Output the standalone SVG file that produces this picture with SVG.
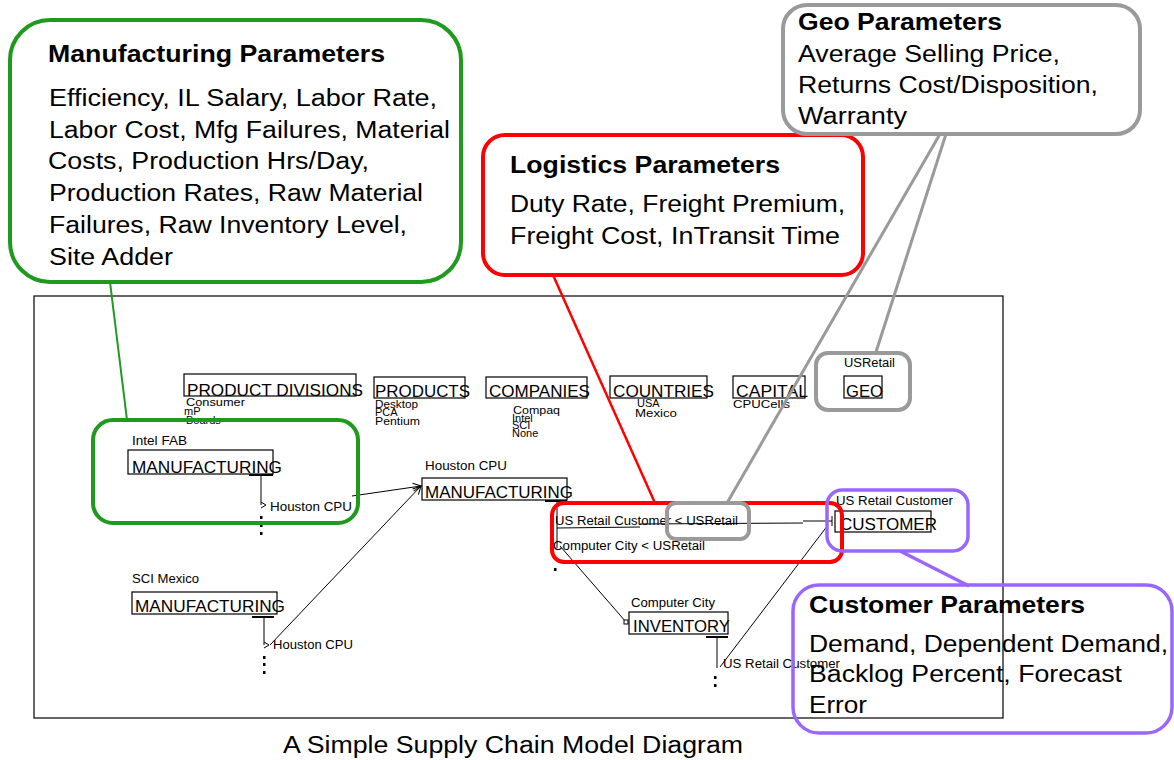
<svg xmlns="http://www.w3.org/2000/svg" width="1174" height="760" viewBox="0 0 1174 760">
<style>
.frame{fill:none;stroke:#000;stroke-width:1.2}
.nb{fill:none;stroke:#000;stroke-width:1.2}
.big{font-family:"Liberation Sans",Arial,sans-serif;font-size:17px;fill:#000}
.sm{font-family:"Liberation Sans",Arial,sans-serif;font-size:12px;fill:#000}
.tn{font-family:"Liberation Sans",Arial,sans-serif;font-size:11px;fill:#000}
.ttl{font-family:"Liberation Sans",Arial,sans-serif;font-size:23px;font-weight:bold;fill:#000}
.bd{font-family:"Liberation Sans",Arial,sans-serif;font-size:23px;fill:#000}
.cap{font-family:"Liberation Sans",Arial,sans-serif;font-size:23px;fill:#000}
.ln{stroke:#000;stroke-width:1;fill:none}
.tk{stroke:#000;stroke-width:2;fill:none}
.g{stroke:#1f9a1f;fill:none}
.r{stroke:#ff0000;fill:none}
.gy{stroke:#9a9a9a;fill:none}
.p{stroke:#9966ff;fill:none}
</style>
<defs>
<marker id="arr" markerUnits="userSpaceOnUse" markerWidth="10" markerHeight="10" refX="9" refY="5" orient="auto">
<path d="M1,1 L9,5 L1,9" fill="none" stroke="#000" stroke-width="1"/>
</marker>
</defs>
<rect width="1174" height="760" fill="#fff"/>

<rect class="frame" x="34" y="296" width="969" height="422"/>

<g id="node-product-divisions">
<rect class="nb" x="184" y="374" width="172" height="22"/>
<text class="big" x="187" y="396" textLength="176" lengthAdjust="spacingAndGlyphs">PRODUCT DIVISIONS</text>
<text class="tn" x="186" y="406" textLength="59" lengthAdjust="spacingAndGlyphs">Consumer</text>
<text class="tn" x="184" y="415">mP</text>
<text class="tn" x="186" y="424">Boards</text>
</g>
<g id="node-products">
<rect class="nb" x="374" y="377" width="91" height="21"/>
<text class="big" x="375" y="397" textLength="95" lengthAdjust="spacingAndGlyphs">PRODUCTS</text>
<text class="tn" x="375" y="408" textLength="43" lengthAdjust="spacingAndGlyphs">Desktop</text>
<text class="tn" x="375" y="416">PCA</text>
<text class="tn" x="375" y="425" textLength="45" lengthAdjust="spacingAndGlyphs">Pentium</text>
</g>
<g id="node-companies">
<rect class="nb" x="486" y="377" width="101" height="21"/>
<text class="big" x="489" y="397" textLength="101" lengthAdjust="spacingAndGlyphs">COMPANIES</text>
<text class="tn" x="513" y="414" textLength="47" lengthAdjust="spacingAndGlyphs">Compaq</text>
<text class="tn" x="512" y="422">Intel</text>
<text class="tn" x="512" y="429">SCI</text>
<text class="tn" x="512" y="437">None</text>
</g>
<g id="node-countries">
<rect class="nb" x="610" y="376" width="97" height="22"/>
<text class="big" x="613" y="397" textLength="101" lengthAdjust="spacingAndGlyphs">COUNTRIES</text>
<text class="tn" x="637" y="407">USA</text>
<text class="tn" x="635" y="417" textLength="42" lengthAdjust="spacingAndGlyphs">Mexico</text>
</g>
<g id="node-capital">
<rect class="nb" x="733" y="376" width="72" height="22"/>
<text class="big" x="736" y="397" textLength="72" lengthAdjust="spacingAndGlyphs">CAPITAL</text>
<text class="tn" x="733" y="408" textLength="57" lengthAdjust="spacingAndGlyphs">CPUCells</text>
</g>
<g id="node-geo">
<text class="sm" x="844" y="367" textLength="51" lengthAdjust="spacingAndGlyphs">USRetail</text>
<rect class="nb" x="844" y="376" width="38" height="22"/>
<text class="big" x="846" y="397" textLength="37" lengthAdjust="spacingAndGlyphs">GEO</text>
</g>

<g id="node-intel-mfg">
<text class="sm" x="132" y="445" textLength="55" lengthAdjust="spacingAndGlyphs">Intel FAB</text>
<rect class="nb" x="128" y="450" width="145" height="24"/>
<text class="big" x="132" y="473" textLength="150" lengthAdjust="spacingAndGlyphs">MANUFACTURING</text>
<line class="tk" x1="249" y1="475" x2="273" y2="475"/>
<line class="ln" x1="261" y1="475" x2="261" y2="505"/>
<path class="ln" d="M261,502 L266,505 L261,508"/>
<text class="sm" x="270" y="511" textLength="82" lengthAdjust="spacingAndGlyphs">Houston CPU</text>
<rect x="260" y="516" width="2.5" height="3" fill="#000"/>
<rect x="260" y="524" width="2.5" height="3" fill="#000"/>
<rect x="260" y="532" width="2.5" height="3" fill="#000"/>
</g>

<g id="node-houston-mfg">
<text class="sm" x="425" y="470" textLength="82" lengthAdjust="spacingAndGlyphs">Houston CPU</text>
<rect class="nb" x="422" y="478" width="145" height="22"/>
<text class="big" x="425" y="498" textLength="148" lengthAdjust="spacingAndGlyphs">MANUFACTURING</text>
<line class="tk" x1="545" y1="501" x2="567" y2="501"/>
<line class="ln" x1="557" y1="501" x2="557" y2="548"/>
<text class="sm" x="555" y="525" textLength="183" lengthAdjust="spacingAndGlyphs">US Retail Customer &lt; USRetail</text>
<text class="sm" x="553" y="550" textLength="152" lengthAdjust="spacingAndGlyphs">Computer City &lt; USRetail</text>
<rect x="554" y="568" width="2.5" height="3" fill="#000"/>
</g>

<g id="node-sci-mfg">
<text class="sm" x="132" y="583" textLength="67" lengthAdjust="spacingAndGlyphs">SCI Mexico</text>
<rect class="nb" x="132" y="592" width="145" height="22"/>
<text class="big" x="135" y="612" textLength="150" lengthAdjust="spacingAndGlyphs">MANUFACTURING</text>
<line class="tk" x1="252" y1="617" x2="274" y2="617"/>
<line class="ln" x1="264" y1="617" x2="264" y2="645"/>
<path class="ln" d="M264,642 L269,645 L264,648"/>
<text class="sm" x="273" y="649" textLength="80" lengthAdjust="spacingAndGlyphs">Houston CPU</text>
<rect x="263" y="656" width="2.5" height="3" fill="#000"/>
<rect x="263" y="663" width="2.5" height="3" fill="#000"/>
<rect x="263" y="671" width="2.5" height="3" fill="#000"/>
</g>

<g id="node-inventory">
<text class="sm" x="631" y="607" textLength="84" lengthAdjust="spacingAndGlyphs">Computer City</text>
<rect class="nb" x="629" y="612" width="99" height="22"/>
<text class="big" x="633" y="632" textLength="97" lengthAdjust="spacingAndGlyphs">INVENTORY</text>
<line class="tk" x1="706" y1="637" x2="728" y2="637"/>
<line class="ln" x1="717" y1="637" x2="717" y2="668"/>
<text class="sm" x="723" y="668" textLength="117" lengthAdjust="spacingAndGlyphs">US Retail Customer</text>
<rect x="714" y="676" width="2.5" height="3" fill="#000"/>
<rect x="714" y="684" width="2.5" height="3" fill="#000"/>
</g>

<g id="node-customer">
<text class="sm" x="836" y="505" textLength="117" lengthAdjust="spacingAndGlyphs">US Retail Customer</text>
<rect class="nb" x="835" y="511" width="96" height="21"/>
<text class="big" x="840" y="530" textLength="97" lengthAdjust="spacingAndGlyphs">CUSTOMER</text>
</g>

<g id="connectors">
<line class="ln" x1="352" y1="496" x2="421" y2="486" marker-end="url(#arr)"/>
<line class="ln" x1="270" y1="645" x2="421" y2="486" marker-end="url(#arr)"/>
<line class="ln" x1="557" y1="528" x2="640" y2="527"/>
<line class="ln" x1="640" y1="524" x2="803" y2="523"/>
<line class="ln" x1="803" y1="521" x2="832" y2="521"/>
<line class="ln" x1="832" y1="516" x2="832" y2="526"/>
<line class="ln" x1="560" y1="546" x2="626" y2="622"/>
<rect x="624" y="620" width="4" height="4" fill="#fff" stroke="#000" stroke-width="1"/>
<line class="ln" x1="720" y1="667" x2="828" y2="525"/>
<line class="g" stroke-width="2" x1="110" y1="282" x2="127" y2="420"/>
<line class="r" stroke-width="2.5" x1="553" y1="275" x2="655" y2="503"/>
<line class="gy" stroke-width="3" x1="940" y1="134" x2="727" y2="503"/>
<line class="gy" stroke-width="3" x1="946" y1="134" x2="876" y2="352"/>
<line class="p" stroke-width="3.5" x1="900" y1="551" x2="969" y2="586"/>
</g>

<g id="mfg-params">
<rect class="g" stroke-width="4" x="10" y="20" width="451" height="262" rx="40"/>
<text class="ttl" x="48" y="62" textLength="337" lengthAdjust="spacingAndGlyphs">Manufacturing Parameters</text>
<text class="bd" x="49" y="106" textLength="388" lengthAdjust="spacingAndGlyphs">Efficiency, IL Salary, Labor Rate,</text>
<text class="bd" x="49" y="138" textLength="401" lengthAdjust="spacingAndGlyphs">Labor Cost, Mfg Failures, Material</text>
<text class="bd" x="48" y="169" textLength="321" lengthAdjust="spacingAndGlyphs">Costs, Production Hrs/Day,</text>
<text class="bd" x="49" y="201" textLength="374" lengthAdjust="spacingAndGlyphs">Production Rates, Raw Material</text>
<text class="bd" x="49" y="233" textLength="358" lengthAdjust="spacingAndGlyphs">Failures, Raw Inventory Level,</text>
<text class="bd" x="49" y="265" textLength="124" lengthAdjust="spacingAndGlyphs">Site Adder</text>
</g>
<g id="mfg-highlight">
<rect class="g" stroke-width="4" x="93" y="420" width="265" height="103" rx="20"/>
</g>

<g id="logistics-params">
<rect class="r" stroke-width="4" x="483" y="135" width="380" height="140" rx="22" fill="#fff"/>
<text class="ttl" x="510" y="173" textLength="270" lengthAdjust="spacingAndGlyphs">Logistics Parameters</text>
<text class="bd" x="510" y="212" textLength="335" lengthAdjust="spacingAndGlyphs">Duty Rate, Freight Premium,</text>
<text class="bd" x="510" y="244" textLength="330" lengthAdjust="spacingAndGlyphs">Freight Cost, InTransit Time</text>
</g>
<g id="logistics-highlight">
<rect class="r" stroke-width="4" x="552" y="503" width="290" height="59" rx="12"/>
</g>

<g id="geo-params">
<rect class="gy" stroke-width="4" x="783" y="5" width="357" height="129" rx="24" fill="#fff"/>
<text class="ttl" x="798" y="30" textLength="204" lengthAdjust="spacingAndGlyphs">Geo Parameters</text>
<text class="bd" x="798" y="62" textLength="262" lengthAdjust="spacingAndGlyphs">Average Selling Price,</text>
<text class="bd" x="798" y="93" textLength="300" lengthAdjust="spacingAndGlyphs">Returns Cost/Disposition,</text>
<text class="bd" x="798" y="124" textLength="109" lengthAdjust="spacingAndGlyphs">Warranty</text>
</g>
<g id="geo-highlights">
<rect class="gy" stroke-width="4" x="667" y="503" width="82" height="36" rx="9"/>
<rect class="gy" stroke-width="4" x="816" y="353" width="94" height="57" rx="12"/>
</g>

<g id="customer-params">
<rect class="p" stroke-width="3.5" x="793" y="585" width="379" height="148" rx="26"/>
<text class="ttl" x="809" y="613" textLength="276" lengthAdjust="spacingAndGlyphs">Customer Parameters</text>
<text class="bd" x="809" y="652" textLength="359" lengthAdjust="spacingAndGlyphs">Demand, Dependent Demand,</text>
<text class="bd" x="809" y="682" textLength="313" lengthAdjust="spacingAndGlyphs">Backlog Percent, Forecast</text>
<text class="bd" x="809" y="713" textLength="58" lengthAdjust="spacingAndGlyphs">Error</text>
</g>
<g id="customer-highlight">
<rect class="p" stroke-width="3.5" x="827" y="490" width="141" height="61" rx="15"/>
</g>

<text class="cap" x="283" y="753" textLength="460" lengthAdjust="spacingAndGlyphs">A Simple Supply Chain Model Diagram</text>
</svg>
